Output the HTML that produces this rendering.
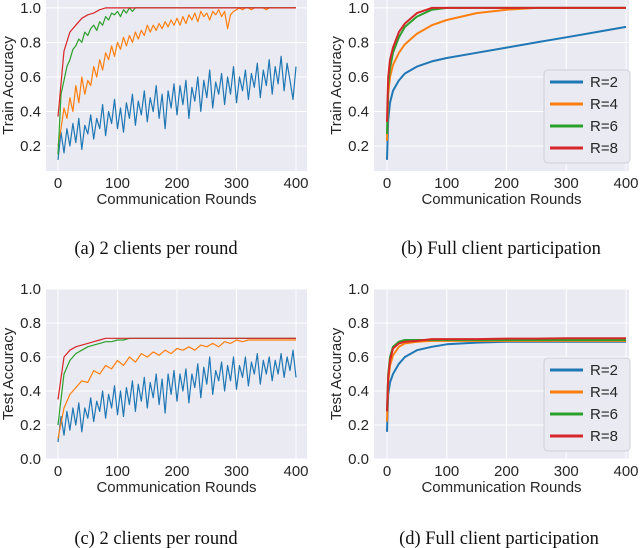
<!DOCTYPE html>
<html><head><meta charset="utf-8"><style>
body{margin:0;background:#fff;}
svg{display:block;font-family:"Liberation Sans",sans-serif;}
.cap{font-family:"Liberation Serif",serif;font-size:18.5px;fill:#111;}
</style></head><body>
<svg id="fig" width="640" height="548" viewBox="0 0 640 548" xmlns="http://www.w3.org/2000/svg"></svg>
<script>
const colors=["#1f77b4","#ff7f0e","#2ca02c","#d62728"];
const legendLabels=["R=2","R=4","R=6","R=8"];
const xTicks=[0,100,200,300,400];
const yTicksTop=[0.2,0.4,0.6,0.8,1.0];
const yTicksBot=[0.0,0.2,0.4,0.6,0.8,1.0];
// x grids
const xNoisy5=[];for(let i=0;i<=80;i++)xNoisy5.push(i*5);
const xNoisy10=[];for(let i=0;i<=40;i++)xNoisy10.push(i*10);
const xEarly5=[];for(let i=0;i<=40;i++)xEarly5.push(i*5);xEarly5.push(400);
const xSmooth=[0,2,5,10,20,30,50,75,100,150,200,250,300,350,400];
// (a) train, 2 clients
const aBlue=[0.12,0.28,0.16,0.3,0.2,0.33,0.22,0.36,0.18,0.32,0.27,0.38,0.24,0.36,0.3,0.44,0.26,0.4,0.33,0.47,0.3,0.42,0.28,0.45,0.36,0.5,0.32,0.46,0.38,0.52,0.34,0.48,0.4,0.55,0.36,0.5,0.3,0.52,0.42,0.56,0.38,0.55,0.44,0.58,0.36,0.54,0.46,0.6,0.4,0.58,0.48,0.64,0.42,0.57,0.5,0.62,0.44,0.6,0.5,0.66,0.45,0.6,0.52,0.64,0.47,0.62,0.54,0.68,0.48,0.64,0.55,0.7,0.5,0.66,0.56,0.72,0.52,0.68,0.58,0.47,0.66];
const aOrange=[0.2,0.3,0.42,0.36,0.48,0.4,0.55,0.45,0.6,0.5,0.58,0.55,0.66,0.6,0.7,0.64,0.74,0.7,0.78,0.72,0.8,0.76,0.83,0.78,0.84,0.8,0.86,0.82,0.87,0.84,0.9,0.86,0.9,0.87,0.91,0.88,0.92,0.89,0.93,0.9,0.94,0.9,0.95,0.91,0.96,0.93,0.97,0.92,0.98,0.95,0.97,0.93,0.98,0.96,0.99,0.95,0.98,0.88,0.96,0.98,0.99,1,0.99,1,1,0.99,1,1,1,1,0.99,1,1,1,1,1,1,1,1,1,1];
const aGreen=[0.15,0.5,0.58,0.66,0.7,0.76,0.78,0.82,0.8,0.86,0.84,0.88,0.9,0.87,0.92,0.9,0.95,0.93,0.97,0.96,0.98,0.95,0.99,0.97,1,0.98,1,1,1,1,1,1,1,1,1,1,1,1,1,1,1,1];
const aRed=[0.37,0.75,0.86,0.9,0.94,0.96,0.97,0.99,1,1,1,1,1,1,1,1,1,1,1,1,1,1,1,1,1,1,1,1,1,1,1,1,1,1,1,1,1,1,1,1,1];
// (b) train, full
const bBlue=[0.12,0.35,0.45,0.52,0.58,0.62,0.66,0.69,0.71,0.74,0.77,0.8,0.83,0.86,0.89];
const bOrange=[0.23,0.5,0.6,0.67,0.74,0.79,0.85,0.9,0.93,0.97,0.99,1,1,1,1];
const bGreen=[0.27,0.55,0.65,0.74,0.83,0.89,0.95,0.99,1,1,1,1,1,1,1];
const bRed=[0.34,0.6,0.7,0.77,0.86,0.91,0.97,1,1,1,1,1,1,1,1];
// (c) test, 2 clients
const cBlue=[0.1,0.25,0.14,0.28,0.17,0.3,0.2,0.33,0.16,0.3,0.24,0.36,0.22,0.34,0.28,0.4,0.24,0.38,0.3,0.43,0.26,0.4,0.25,0.42,0.32,0.46,0.28,0.44,0.34,0.48,0.3,0.45,0.36,0.5,0.32,0.47,0.27,0.5,0.38,0.52,0.34,0.5,0.4,0.53,0.33,0.5,0.42,0.56,0.36,0.54,0.44,0.6,0.38,0.52,0.46,0.57,0.4,0.55,0.46,0.6,0.41,0.55,0.48,0.6,0.43,0.57,0.5,0.62,0.44,0.58,0.5,0.6,0.46,0.58,0.5,0.62,0.48,0.6,0.52,0.64,0.48];
const cOrange=[0.12,0.3,0.38,0.42,0.46,0.45,0.52,0.5,0.55,0.53,0.58,0.55,0.6,0.57,0.62,0.6,0.63,0.61,0.64,0.62,0.65,0.64,0.66,0.64,0.67,0.66,0.68,0.66,0.69,0.68,0.7,0.69,0.7,0.7,0.7,0.7,0.7,0.7,0.7,0.7,0.7];
const cGreen=[0.2,0.5,0.58,0.62,0.64,0.66,0.67,0.68,0.69,0.69,0.7,0.7,0.71,0.71,0.71,0.71,0.71,0.71,0.71,0.71,0.71,0.71,0.71,0.71,0.71,0.71,0.71,0.71,0.71,0.71,0.71,0.71,0.71,0.71,0.71,0.71,0.71,0.71,0.71,0.71,0.71];
const cRed=[0.35,0.6,0.64,0.66,0.67,0.68,0.69,0.7,0.71,0.71,0.71,0.71,0.71,0.71,0.71,0.71,0.71,0.71,0.71,0.71,0.71,0.71,0.71,0.71,0.71,0.71,0.71,0.71,0.71,0.71,0.71,0.71,0.71,0.71,0.71,0.71,0.71,0.71,0.71,0.71,0.71];
// (d) test, full
const dBlue=[0.16,0.38,0.45,0.5,0.56,0.6,0.64,0.66,0.675,0.685,0.69,0.69,0.69,0.69,0.69];
const dOrange=[0.22,0.45,0.55,0.61,0.66,0.68,0.69,0.695,0.695,0.695,0.695,0.695,0.695,0.695,0.695];
const dGreen=[0.28,0.5,0.6,0.66,0.69,0.7,0.7,0.7,0.7,0.7,0.7,0.7,0.7,0.7,0.7];
const dRed=[0.28,0.48,0.58,0.65,0.68,0.69,0.695,0.705,0.705,0.705,0.708,0.708,0.71,0.71,0.71];

const NS="http://www.w3.org/2000/svg";
const fig=document.getElementById('fig');
function mk(tag,attrs,parent){const e=document.createElementNS(NS,tag);for(const k in attrs)e.setAttribute(k,attrs[k]);(parent||fig).appendChild(e);return e;}

function panel(o){
  const g=mk('g',{});
  
  
  const sx=v=>o.x0+(v-0)/400*(o.x400-o.x0);
  const Y=v=>o.yb-(v-o.ymin)/(o.ymax-o.ymin)*(o.yb-o.yt);
  const bg=mk('rect',{x:o.l,y:o.yt,width:o.r-o.l,height:o.yb-o.yt,fill:'#eaeaf2'},g);
  
  
  xTicks.forEach(t=>{
    mk('line',{x1:sx(t),x2:sx(t),y1:o.yt,y2:o.yb,stroke:'#fff','stroke-width':1},g);
    const tx=mk('text',{x:sx(t),y:o.yb+17,'text-anchor':'middle','font-size':15,fill:'#262626'},g);
    tx.textContent=t;
    
    
  });
  o.yticks.forEach(t=>{
    mk('line',{x1:o.l,x2:o.r,y1:Y(t),y2:Y(t),stroke:'#fff','stroke-width':1},g);
    const tx=mk('text',{x:o.l-5,y:Y(t)+5,'text-anchor':'end','font-size':15,fill:'#262626'},g);
    tx.textContent=t.toFixed(1);
    
    
  });
  const xt=mk('text',{x:(o.l+o.r)/2,y:o.yb+33,'text-anchor':'middle','font-size':15,fill:'#262626'},g);
  xt.textContent='Communication Rounds';
  
  
  const ytc=(o.yt+o.yb)/2;
  const yt=mk('text',{x:o.l-33,y:ytc,'text-anchor':'middle','font-size':15,fill:'#262626',transform:`rotate(-90 ${o.l-33} ${ytc})`},g);
  yt.textContent=o.ytitle;
  
  
  o.series.forEach((s,i)=>{
    const d=s.y.map((v,j)=>(j?'L':'M')+sx(s.x[j]).toFixed(1)+','+Y(v).toFixed(1)).join('');
    const p=mk('path',{d:d,fill:'none',stroke:colors[i],'stroke-width':o.sw,'stroke-linejoin':'round'},g);
    
    
  });
  if(o.legend){
    const lg=mk('g',{},g);
    
    
    mk('rect',{x:o.legend.x,y:o.legend.y,width:86,height:93,rx:4,fill:'#eaeaf2',stroke:'#cfcfd8','stroke-width':1},lg);
    legendLabels.forEach((lab,i)=>{
      const yy=o.legend.y+12+i*22;
      const e=mk('g',{},lg);
      
      
      mk('line',{x1:o.legend.x+6,x2:o.legend.x+39,y1:yy,y2:yy,stroke:colors[i],'stroke-width':3},e);
      const t=mk('text',{x:o.legend.x+46,y:yy+5,'font-size':15,fill:'#262626'},e);
      t.textContent=lab;
    });
  }
  const c=mk('text',{x:o.capX,y:o.capY,'text-anchor':'middle',class:'cap'},g);
  c.textContent=o.caption;
  
  
}
const topCfg={yt:0,yb:171,ymin:0.055,ymax:1.046,yticks:yTicksTop,ytitle:'Train Accuracy',capY:254};
const botCfg={yt:289,yb:459,ymin:0,ymax:1.0,yticks:yTicksBot,ytitle:'Test Accuracy',capY:544};
panel(Object.assign({name:'panel-a',l:46,r:307,x0:58,x400:296,sw:1.2,capX:156,caption:'(a)  2 clients per round',
  series:[{x:xNoisy5,y:aBlue},{x:xNoisy5,y:aOrange},{x:xEarly5,y:aGreen},{x:xNoisy10,y:aRed}]},topCfg));
panel(Object.assign({name:'panel-b',l:374,r:629,x0:387,x400:626,sw:2,capX:501,caption:'(b)  Full client participation',legend:{x:544,y:70},
  series:[{x:xSmooth,y:bBlue},{x:xSmooth,y:bOrange},{x:xSmooth,y:bGreen},{x:xSmooth,y:bRed}]},topCfg));
panel(Object.assign({name:'panel-c',l:46,r:307,x0:58,x400:296,sw:1.2,capX:156,caption:'(c)  2 clients per round',
  series:[{x:xNoisy5,y:cBlue},{x:xNoisy10,y:cOrange},{x:xNoisy10,y:cGreen},{x:xNoisy10,y:cRed}]},botCfg));
panel(Object.assign({name:'panel-d',l:374,r:629,x0:387,x400:626,sw:2,capX:499,caption:'(d)  Full client participation',legend:{x:544,y:358},
  series:[{x:xSmooth,y:dBlue},{x:xSmooth,y:dOrange},{x:xSmooth,y:dGreen},{x:xSmooth,y:dRed}]},botCfg));
</script>
</body></html>
